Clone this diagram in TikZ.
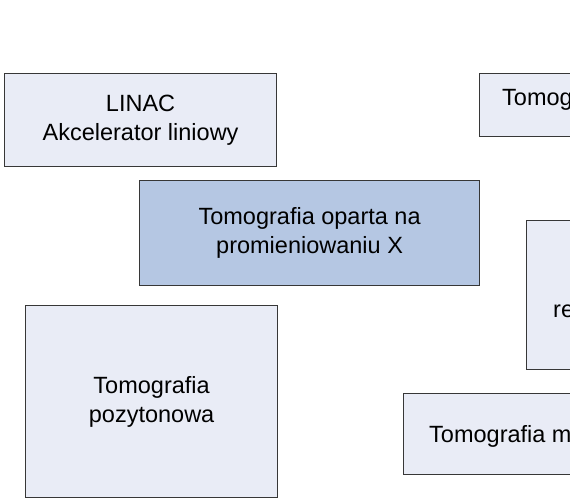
\documentclass[tikz,border=0pt]{standalone}
\usepackage{fontspec}
\setmainfont{Liberation Sans}
\usepackage{tikz}
\usetikzlibrary{positioning}

\definecolor{boxlight}{RGB}{233,236,246}
\definecolor{boxdark}{RGB}{181,199,227}
\definecolor{boxline}{RGB}{55,55,55}

\begin{document}
\begin{tikzpicture}[
  x=1pt,y=-1pt,
  panel/.style={draw=boxline,line width=1.2pt,fill=boxlight,anchor=north west,inner sep=0pt,align=center,font=\fontsize{23.5}{29}\selectfont},
  panel dark/.style={panel,fill=boxdark},
  cut text/.style={anchor=base west,inner sep=0pt,font=\fontsize{23.5}{29}\selectfont}
]
\useasboundingbox (0,0) rectangle (570,500);
\clip (0,0) rectangle (570,500);
\node[panel,minimum width=272pt,minimum height=93pt] (linac) at (4,73) {LINAC\\Akcelerator liniowy};
\node[panel,minimum width=130pt,minimum height=63pt] (ct) at (479,73) {};
\node[cut text] (cttext) at (502,106) {Tomog};
\node[panel dark,minimum width=340pt,minimum height=105pt] (xray) at (139,180) {Tomografia oparta na\\promieniowaniu X};
\node[panel,minimum width=80pt,minimum height=149pt] (mr) at (526,220) {};
\node[cut text] (mrtext) at (553,317) {re};
\node[panel,minimum width=252pt,minimum height=192pt] (pet) at (25,305) {Tomografia\\pozytonowa};
\node[panel,minimum width=200pt,minimum height=81pt] (mri) at (403,393) {};
\node[cut text] (mritext) at (429,442) {Tomografia m};
\end{tikzpicture}
\end{document}
